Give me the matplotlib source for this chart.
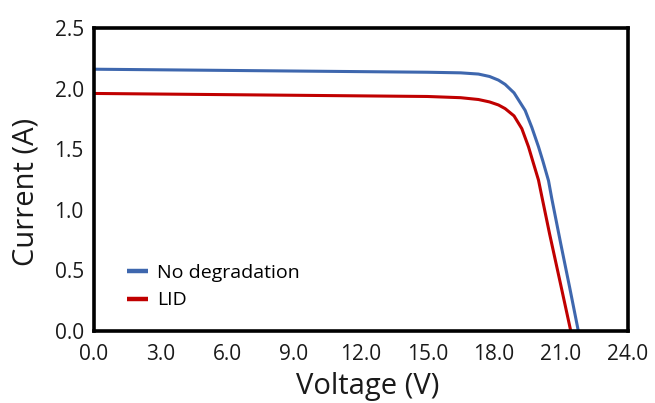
import matplotlib
matplotlib.use("Agg")
import matplotlib.pyplot as plt

# Data
v_nodeg = [0, 3, 6, 9, 12, 15, 16.5, 17.3, 17.8, 18.2, 18.5, 18.9, 19.4, 19.7, 20.0, 20.2, 20.45, 20.6, 21.0, 21.4, 21.79]
i_nodeg = [2.16, 2.155, 2.15, 2.145, 2.14, 2.135, 2.13, 2.12, 2.10, 2.07, 2.035, 1.965, 1.82, 1.68, 1.52, 1.40, 1.24, 1.09, 0.72, 0.36, 0.0]

v_lid = [0, 3, 6, 9, 12, 15, 16.5, 17.3, 17.8, 18.2, 18.5, 18.9, 19.25, 19.55, 19.77, 20.0, 20.15, 20.5, 21.0, 21.45]
i_lid = [1.96, 1.955, 1.95, 1.945, 1.94, 1.935, 1.925, 1.91, 1.89, 1.865, 1.835, 1.775, 1.67, 1.52, 1.385, 1.245, 1.11, 0.80, 0.38, 0.0]

x_ticks = [0, 3, 6, 9, 12, 15, 18, 21, 24]
y_ticks = [0.0, 0.5, 1.0, 1.5, 2.0, 2.5]

plt.rcParams['font.family'] = ['Open Sans', 'DejaVu Sans']

fig = plt.figure(figsize=(6.55, 4.03), dpi=100)
ax = fig.add_axes([93.5 / 655, (403 - 331) / 403, (627.5 - 93.5) / 655, (331 - 28) / 403])

ax.plot(v_nodeg, i_nodeg, color='#3E67AE', lw=2.2, label='No degradation',
        solid_capstyle='butt', solid_joinstyle='round')
ax.plot(v_lid, i_lid, color='#C00000', lw=2.2, label='LID',
        solid_capstyle='butt', solid_joinstyle='round')

ax.set_xlim(0, 24)
ax.set_ylim(0, 2.5)
ax.set_xticks(x_ticks)
ax.set_xticklabels([f"{t:.1f}" for t in x_ticks])
ax.set_yticks(y_ticks)
ax.set_yticklabels([f"{t:.1f}" for t in y_ticks])
ax.tick_params(axis='both', length=0, labelsize=15, colors='#1a1a1a')
ax.tick_params(axis='x', pad=9)
ax.tick_params(axis='y', pad=7)

for s in ax.spines.values():
    s.set_linewidth(2.6)
    s.set_color('black')

ax.set_xlabel('Voltage (V)', fontsize=21, color='#1a1a1a')
ax.set_ylabel('Current (A)', fontsize=21, color='#1a1a1a')
ax.xaxis.set_label_coords(0.513, -0.135)
ax.yaxis.set_label_coords(-0.100, 0.46)

leg = ax.legend(loc='upper left', bbox_to_anchor=(0.048, 0.248), frameon=False,
                fontsize=14, handlelength=1.1, handletextpad=0.45, labelspacing=0.5,
                borderaxespad=0)
for h in leg.get_lines():
    h.set_linewidth(3.2)

fig.savefig('out.png', dpi=100)
